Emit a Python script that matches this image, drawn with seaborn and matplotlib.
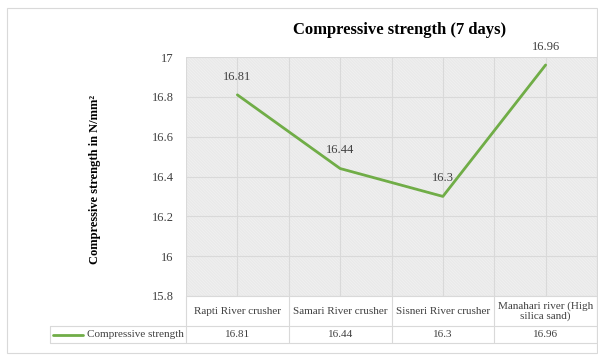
import matplotlib
matplotlib.use("Agg")
import matplotlib.pyplot as plt
import matplotlib.patches as mpatches
import matplotlib.transforms as mtrans
import seaborn as sns
import pandas as pd

# Data
categories = ["Rapti River crusher", "Samari River crusher", "Sisneri River crusher",
              "Manahari river (High\nsilica sand)"]
strength = [16.81, 16.44, 16.3, 16.96]
series_name = "Compressive strength"
y_ticks = [15.8, 16.0, 16.2, 16.4, 16.6, 16.8, 17.0]

sns.set_theme(style="white")
plt.rcParams["font.family"] = ["Liberation Serif", "DejaVu Serif"]
plt.rcParams["hatch.linewidth"] = 0.5

GREEN = "#70AD47"
GRID = "#d9d9d9"
TXT = "#404040"

fig = plt.figure(figsize=(5.98, 3.56), dpi=100)
ax = fig.add_axes([186 / 598, 1 - 296 / 356, 411 / 598, 239 / 356])

# Outer chart frame
fig.patches.append(mpatches.Rectangle((7 / 598, 3 / 356), 590 / 598, 345 / 356,
                                      transform=fig.transFigure, fill=False,
                                      edgecolor="#d9d9d9", linewidth=0.8))

# Finely hatched plot area
ax.set_facecolor("white")
ax.add_patch(mpatches.Rectangle((0, 0), 1, 1, transform=ax.transAxes, facecolor="white",
                                edgecolor="#e2e2e2", hatch="\\" * 22, linewidth=0, zorder=0))

df = pd.DataFrame({"category": list(range(len(categories))), "value": strength})
sns.lineplot(data=df, x="category", y="value", ax=ax, color=GREEN, linewidth=2.0,
             zorder=3, legend=False)

ax.set_xlim(-0.5, len(categories) - 0.5)
ax.set_ylim(15.8, 17.0)
ax.set_yticks(y_ticks)
ax.set_yticklabels([f"{t:g}" for t in y_ticks], fontsize=9, color=TXT)
ax.set_xticks(range(len(categories)))
ax.set_xticks([i - 0.5 for i in range(len(categories) + 1)], minor=True)
ax.set_xticklabels([])
ax.tick_params(axis="both", which="both", length=0)
ax.tick_params(axis="y", pad=9)
ax.grid(True, which="both", color=GRID, linewidth=0.8, zorder=1)
ax.set_axisbelow(True)
for s in ax.spines.values():
    s.set_visible(False)
ax.set_xlabel("")
ax.set_ylabel("")

# Data labels
for i, v in enumerate(strength):
    ax.annotate(f"{v:g}", (i, v), xytext=(0, 13), textcoords="offset points",
                ha="center", va="center", fontsize=9, color=TXT)

# Data table under the plot
trans = mtrans.blended_transform_factory(ax.transData, ax.transAxes)
h1 = 30 / 239
h2 = 17 / 239
line_kw = dict(color=GRID, linewidth=0.8, clip_on=False)
xl = -0.5 - 136 / 102.75
n = len(categories)
ax.plot([-0.5, n - 0.5], [0, 0], transform=trans, **line_kw)
ax.plot([xl, n - 0.5], [-h1, -h1], transform=trans, **line_kw)
ax.plot([xl, n - 0.5], [-h1 - h2, -h1 - h2], transform=trans, **line_kw)
for b in range(n + 1):
    ax.plot([b - 0.5, b - 0.5], [0, -h1 - h2], transform=trans, **line_kw)
ax.plot([xl, xl], [-h1, -h1 - h2], transform=trans, **line_kw)

for i, (c, v) in enumerate(zip(categories, strength)):
    ax.text(i, -h1 / 2, c, transform=trans, ha="center", va="center", fontsize=8,
            color=TXT, linespacing=1.1)
    ax.text(i, -h1 - h2 / 2, f"{v:g}", transform=trans, ha="center", va="center",
            fontsize=8, color=TXT)

ax.plot([xl + 0.03, xl + 0.32], [-h1 - h2 / 2, -h1 - h2 / 2], transform=trans,
        color=GREEN, linewidth=2.0, clip_on=False)
ax.text(-0.52, -h1 - h2 / 2, series_name, transform=trans, ha="right", va="center",
        fontsize=8, color=TXT)

# Titles
fig.text(400 / 598, 1 - 30 / 356, "Compressive strength (7 days)", ha="center",
         va="center", fontsize=12, fontweight="bold", color="black")
fig.text(95 / 598, 1 - 179 / 356, "Compressive strength in N/mm²", ha="center",
         va="center", rotation=90, fontsize=9, fontweight="bold", color="black")

fig.savefig("out.png", dpi=100)
